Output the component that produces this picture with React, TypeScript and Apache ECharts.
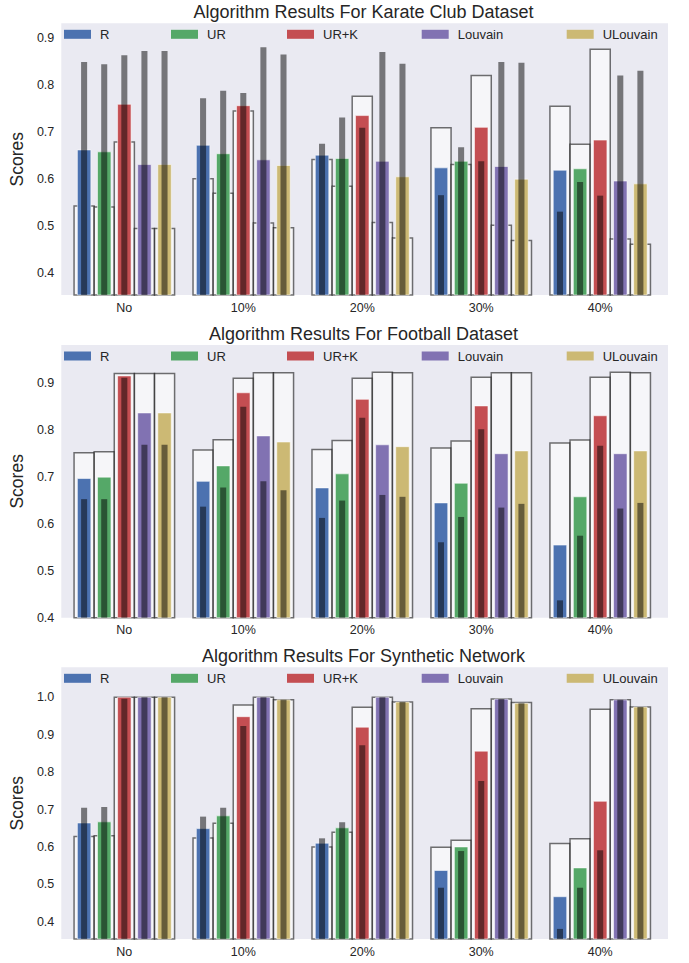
import React, { useEffect, useRef } from "react";
import * as echarts from "echarts";

const groups = ["No", "10%", "20%", "30%", "40%"];
const algorithms = ["R", "UR", "UR+K", "Louvain", "ULouvain"];
const colors = ["#4C72B0", "#55A868", "#C44E52", "#8172B2", "#CCB974"];
const titles = [
  "Algorithm Results For Karate Club Dataset",
  "Algorithm Results For Football Dataset",
  "Algorithm Results For Synthetic Network",
];
const yTicksKarate = [0.4, 0.5, 0.6, 0.7, 0.8, 0.9];
const yTicksFootball = [0.4, 0.5, 0.6, 0.7, 0.8, 0.9];
const yTicksSynthetic = [0.4, 0.5, 0.6, 0.7, 0.8, 0.9, 1.0];

// rows = algorithms (R, UR, UR+K, Louvain, ULouvain), columns = groups
const karateOutline = [
  [0.543, 0.601, 0.642, 0.709, 0.755],
  [0.541, 0.57, 0.585, 0.631, 0.674],
  [0.679, 0.745, 0.776, 0.82, 0.876],
  [0.495, 0.507, 0.508, 0.502, 0.473],
  [0.495, 0.497, 0.475, 0.47, 0.462],
];
const karateMean = [
  [0.662, 0.672, 0.651, 0.624, 0.619],
  [0.658, 0.654, 0.644, 0.638, 0.622],
  [0.759, 0.756, 0.735, 0.71, 0.683],
  [0.631, 0.641, 0.638, 0.627, 0.596],
  [0.631, 0.629, 0.605, 0.6, 0.59],
];
const karateInner = [
  [0.849, 0.772, 0.675, 0.566, 0.531],
  [0.844, 0.788, 0.731, 0.668, 0.594],
  [0.863, 0.783, 0.709, 0.638, 0.565],
  [0.872, 0.88, 0.87, 0.849, 0.82],
  [0.872, 0.865, 0.845, 0.847, 0.83],
];

const footballOutline = [
  [0.752, 0.758, 0.759, 0.762, 0.773],
  [0.754, 0.78, 0.778, 0.777, 0.779],
  [0.921, 0.911, 0.911, 0.913, 0.913],
  [0.921, 0.923, 0.924, 0.923, 0.924],
  [0.921, 0.923, 0.923, 0.923, 0.923],
];
const footballMean = [
  [0.697, 0.691, 0.677, 0.645, 0.555],
  [0.7, 0.724, 0.707, 0.687, 0.658],
  [0.916, 0.88, 0.866, 0.852, 0.831],
  [0.837, 0.788, 0.769, 0.75, 0.75],
  [0.837, 0.775, 0.765, 0.756, 0.756],
];
const footballInner = [
  [0.653, 0.637, 0.613, 0.561, 0.437],
  [0.653, 0.678, 0.65, 0.615, 0.575],
  [0.912, 0.85, 0.827, 0.802, 0.767],
  [0.769, 0.691, 0.662, 0.635, 0.633],
  [0.769, 0.672, 0.658, 0.643, 0.645],
];

const syntheticOutline = [
  [0.628, 0.624, 0.6, 0.599, 0.609],
  [0.63, 0.663, 0.639, 0.618, 0.622],
  [1.0, 0.979, 0.973, 0.969, 0.968],
  [1.0, 1.0, 1.0, 0.995, 0.993],
  [1.0, 0.993, 0.987, 0.986, 0.974],
];
const syntheticMean = [
  [0.664, 0.649, 0.61, 0.537, 0.467],
  [0.667, 0.683, 0.651, 0.6, 0.544],
  [1.0, 0.948, 0.92, 0.856, 0.722],
  [1.0, 1.0, 1.0, 0.995, 0.993],
  [1.0, 0.993, 0.987, 0.984, 0.974],
];
const syntheticInner = [
  [0.705, 0.681, 0.623, 0.491, 0.381],
  [0.707, 0.705, 0.666, 0.589, 0.491],
  [0.996, 0.923, 0.872, 0.776, 0.591],
  [1.0, 1.0, 1.0, 0.995, 0.993],
  [1.0, 0.993, 0.987, 0.984, 0.974],
];

const FONT = "'Liberation Sans', Arial, sans-serif";
const TEXT = "#262626";
const SLOT = 0.169;

const panels = [
  { outline: karateOutline, mean: karateMean, inner: karateInner, ticks: yTicksKarate, yMin: 0.354, yMax: 0.931, top: 23.3, height: 271.7 },
  { outline: footballOutline, mean: footballMean, inner: footballInner, ticks: yTicksFootball, yMin: 0.4, yMax: 0.982, top: 345, height: 272.7 },
  { outline: syntheticOutline, mean: syntheticMean, inner: syntheticInner, ticks: yTicksSynthetic, yMin: 0.354, yMax: 1.08, top: 667.3, height: 271.7 },
];
const legendLefts = [64, 171, 287, 421.7, 566.7];

function buildOption() {
  const grid: any[] = [];
  const xAxis: any[] = [];
  const yAxis: any[] = [];
  const series: any[] = [];
  const legend: any[] = [];
  const title: any[] = [];

  panels.forEach((p, gi) => {
    grid.push({
      left: 59,
      right: 21,
      top: p.top,
      height: p.height,
      show: true,
      backgroundColor: "#EAEAF2",
      borderWidth: 0,
    });
    xAxis.push({
      type: "value",
      gridIndex: gi,
      min: -0.53,
      max: 4.57,
      axisLine: { show: false },
      axisTick: { show: false },
      splitLine: { show: false },
      axisLabel: {
        customValues: [0, 1, 2, 3, 4],
        formatter: (v: number) => groups[Math.round(v)],
        color: TEXT,
        fontSize: 12.5,
        fontFamily: FONT,
        margin: 6,
      },
    });
    yAxis.push({
      type: "value",
      gridIndex: gi,
      min: p.yMin,
      max: p.yMax,
      name: "Scores",
      nameLocation: "middle",
      nameGap: 30,
      nameTextStyle: { color: TEXT, fontSize: 17.5, fontFamily: FONT },
      axisLine: { show: false },
      axisTick: { show: false },
      splitLine: { show: false },
      axisLabel: {
        customValues: p.ticks,
        formatter: (v: number) => v.toFixed(1),
        color: TEXT,
        fontSize: 12.5,
        fontFamily: FONT,
        margin: 7,
      },
    });
    title.push({
      text: titles[gi],
      left: 363.5,
      textAlign: "center",
      top: p.top - 20,
      padding: 0,
      textStyle: { color: TEXT, fontSize: 18, fontWeight: "normal", fontFamily: FONT },
    });
    algorithms.forEach((name, ai) => {
      const color = colors[ai];
      series.push({
        type: "custom",
        name,
        xAxisIndex: gi,
        yAxisIndex: gi,
        itemStyle: { color },
        encode: { x: 0, y: [1, 2, 3] },
        data: groups.map((_, k) => [k, p.outline[ai][k], p.mean[ai][k], p.inner[ai][k]]),
        renderItem: (params: any, api: any) => {
          const gx = api.value(0) + (ai - 2) * SLOT;
          const cs = params.coordSys;
          const bottom = cs.y + cs.height;
          const w = api.size([SLOT, 0])[0];
          const cx = api.coord([gx, p.yMin])[0];
          const rect = (frac: number, v: number, style: any) => {
            const width = w * frac;
            const top = api.coord([gx, v])[1];
            return {
              type: "rect",
              shape: { x: cx - width / 2, y: top, width, height: bottom - top },
              style,
            };
          };
          return {
            type: "group",
            children: [
              rect(1, api.value(1), { fill: "rgba(255,255,255,0.55)", stroke: "rgba(0,0,0,0.55)", lineWidth: 1.5 }),
              rect(0.67, api.value(2), { fill: color, stroke: "rgba(255,255,255,0.7)", lineWidth: 0.8 }),
              rect(0.3, api.value(3), { fill: "rgba(0,0,0,0.5)" }),
            ],
          };
        },
      });
      legend.push({
        data: [{ name, icon: "rect" }],
        left: legendLefts[ai],
        top: p.top + 4.5,
        padding: 0,
        itemWidth: 27,
        itemHeight: 9,
        selectedMode: false,
        textStyle: { color: TEXT, fontSize: 13, fontFamily: FONT, padding: [0, 0, 0, 4] },
      });
    });
  });

  return {
    animation: false,
    backgroundColor: "#ffffff",
    textStyle: { fontFamily: FONT },
    title,
    legend,
    grid,
    xAxis,
    yAxis,
    series,
  };
}

export default function App() {
  const ref = useRef<HTMLDivElement>(null);
  useEffect(() => {
    if (!ref.current) return;
    const chart = echarts.init(ref.current, null, { renderer: "svg" });
    chart.setOption(buildOption() as any);
    return () => chart.dispose();
  }, []);
  return (
    <div
      ref={ref}
      style={{ position: "absolute", left: 0, top: 0, width: 689, height: 963 }}
    />
  );
}
